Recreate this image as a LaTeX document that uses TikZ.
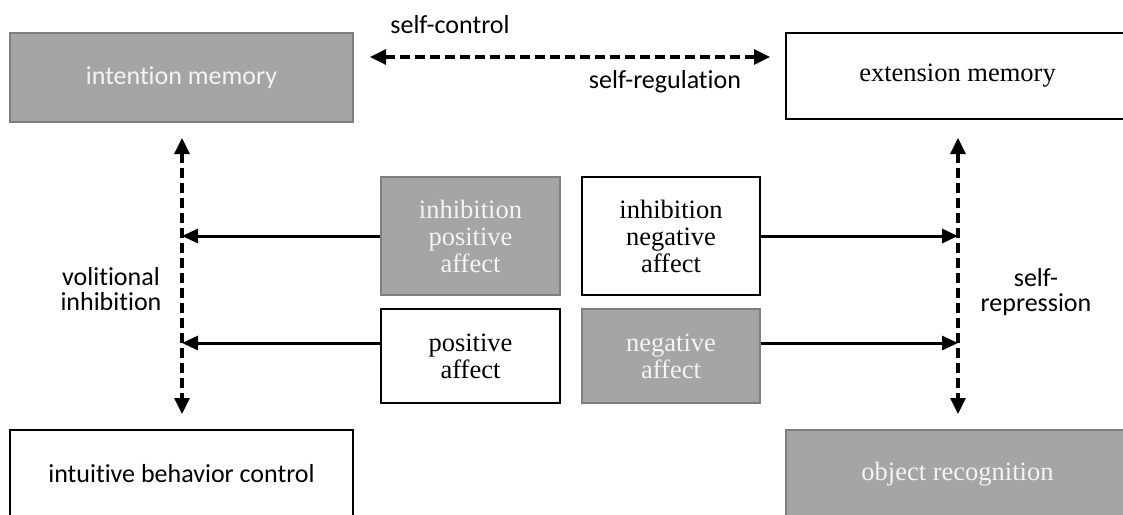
\documentclass[tikz,border=0pt]{standalone}
\usepackage{fontspec}
\setmainfont{Liberation Serif}
\newfontfamily\calibrifont[Ligatures=NoCommon]{Carlito}
\usetikzlibrary{arrows.meta}
\definecolor{boxgray}{HTML}{A5A5A5}
\definecolor{edgegray}{HTML}{7F7F7F}
\definecolor{paletext}{HTML}{F4F4F4}
\begin{document}
\begin{tikzpicture}[x=1pt,y=-1pt,
  box/.style={draw=black, line width=2pt, fill=white, inner sep=0pt, align=center},
  graybox/.style={draw=edgegray, line width=2pt, fill=boxgray, text=paletext, inner sep=0pt, align=center},
  serif/.style={font=\fontsize{26.5}{27}\selectfont},
  sans/.style={font=\calibrifont\fontsize{26}{25}\selectfont},
  dasharrow/.style={line width=3.2pt, dash pattern=on 10pt off 5pt,
     {Triangle[length=16pt,width=15pt]}-{Triangle[length=16pt,width=15pt]}},
  solidarrow/.style={line width=3pt, -{Triangle[length=16pt,width=14pt]}}]
\useasboundingbox (0,0) rectangle (1123,514);
\clip (0,0) rectangle (1123,514);
% big boxes
\node[graybox, sans, minimum width=343pt, minimum height=89pt] (im) at (181.5,77.5) {intention memory};
\node[box, serif, minimum width=343pt, minimum height=86pt] (em) at (957.5,76) {extension memory};
\node[box, sans, minimum width=343pt, minimum height=88pt] (ibc) at (181.5,474) {intuitive behavior control};
\node[graybox, serif, minimum width=343pt, minimum height=88pt] (or) at (957.5,474) {object recognition};
% middle boxes
\node[graybox, serif, minimum width=179pt, minimum height=118pt] (ipa) at (470.5,236) {inhibition\\positive\\affect};
\node[box, serif, minimum width=178pt, minimum height=118pt] (ina) at (671,236) {inhibition\\negative\\affect};
\node[box, serif, minimum width=179pt, minimum height=94pt] (pa) at (470.5,356) {positive\\affect};
\node[graybox, serif, minimum width=178pt, minimum height=94pt] (na) at (671,356) {negative\\affect};
% coordinates for dashed lines
\coordinate (hl) at (370,57);
\coordinate (hr) at (770,57);
\coordinate (vlt) at (182,138);
\coordinate (vlb) at (182,414);
\coordinate (vrt) at (958,138);
\coordinate (vrb) at (958,414);
% dashed arrows
\draw[dasharrow] (hl) -- (hr);
\draw[dasharrow] (vlt) -- (vlb);
\draw[dasharrow] (vrt) -- (vrb);
% solid arrows
\draw[solidarrow] (ipa.west) -- (ipa.west -| vlt);
\draw[solidarrow] ([yshift=13pt]pa.west) -- ([yshift=13pt]pa.west -| vlt);
\draw[solidarrow] (ina.east) -- (ina.east -| vrt);
\draw[solidarrow] ([yshift=13pt]na.east) -- ([yshift=13pt]na.east -| vrt);
% labels
\node[sans, anchor=base] (sc) at (450,33) {self-control};
\node[sans, anchor=base] (sr) at (665,88) {self-regulation};
\node[sans, align=center] (vi) at (111,289) {volitional\\inhibition};
\node[sans, align=center] (srp) at (1036,292) {self-\\repression};
\end{tikzpicture}
\end{document}
